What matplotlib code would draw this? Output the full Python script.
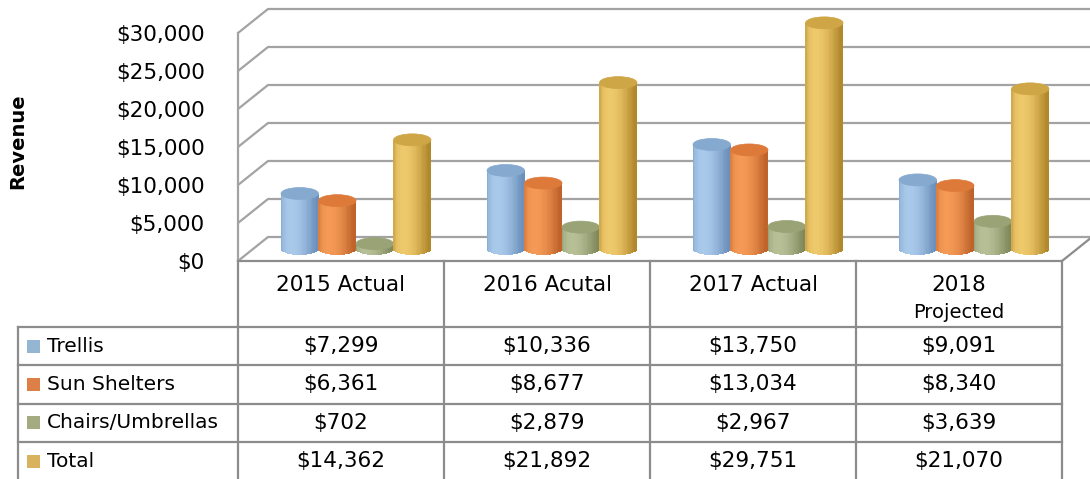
import numpy as np
import matplotlib
matplotlib.use("Agg")
import matplotlib.pyplot as plt
from matplotlib.patches import Ellipse, Rectangle
from matplotlib.colors import to_rgb

# chart data
categories = ["2015 Actual", "2016 Acutal", "2017 Actual", "2018\nProjected"]
series = ["Trellis", "Sun Shelters", "Chairs/Umbrellas", "Total"]
trellis = [7299, 10336, 13750, 9091]
sun_shelters = [6361, 8677, 13034, 8340]
chairs_umbrellas = [702, 2879, 2967, 3639]
total = [14362, 21892, 29751, 21070]
yticks = [0, 5000, 10000, 15000, 20000, 25000, 30000]

values = [trellis, sun_shelters, chairs_umbrellas, total]

# (light, dark, cap, swatch)
colors = [
    ("#a9c9ea", "#6b90bb", "#86a9d0", "#94b6d2"),
    ("#f49a56", "#bf632a", "#dd7a3a", "#dd8047"),
    ("#b6bf96", "#7f895c", "#99a376", "#a5ab81"),
    ("#eec96c", "#b2882c", "#cfa645", "#d8b25c"),
]

W, H = 1090, 479
fig = plt.figure(figsize=(W / 100, H / 100), dpi=100)
plt.rcParams['font.family'] = ['DejaVu Sans']

floor_px = 261
px_per_val = 0.0076
col_px = 206
ax = fig.add_axes([238 / W, (H - floor_px) / H, 4 * col_px / W, floor_px / H])
ax.set_xlim(0, 4)
ax.set_ylim(0, floor_px / px_per_val)
for s in ax.spines.values():
    s.set_visible(False)
ax.set_xticks([])
ax.set_yticks(yticks)
ax.set_yticklabels([f"${v:,}" for v in yticks], fontsize=15.5)
ax.tick_params(axis='y', length=0, pad=24)

grid_c = "#a3a3a3"
dxd = 30 / col_px
dyd = 24 / px_per_val

# back wall gridlines + left wall diagonals
for v in yticks:
    ax.plot([0, dxd, 4.3], [v, v + dyd, v + dyd], color=grid_c, lw=1.6,
            clip_on=False, zorder=1, solid_capstyle='butt')
ax.plot([0, 0], [0, yticks[-1]], color=grid_c, lw=1.6, clip_on=False, zorder=1)
# floor edges
ax.plot([0, 4, 4 + dxd], [0, 0, dyd], color="#8c8c8c", lw=1.6, clip_on=False, zorder=1)

# cylinders
bw = 37.5 / col_px
eh = 12 / px_per_val
nstrip = 30
t = -1 + (2 * np.arange(nstrip) + 1) / nstrip
phi = -0.45
light = np.clip(t * np.sin(phi) + np.sqrt(1 - t ** 2) * np.cos(phi), 0, 1)
for i in range(len(categories)):
    for j in range(len(series)):
        v = values[j][i]
        xc = i + 0.5 + 0.5 * dxd + (j - 1.5) * bw
        base = 0.5 * dyd
        top = base + v
        lo, hi, cap, _ = colors[j]
        lo, hi = np.array(to_rgb(lo)), np.array(to_rgb(hi))
        shade = [hi + (lo - hi) * (I ** 1.5) for I in light]
        xs = xc + t * bw / 2
        bottoms = base - eh / 2 * np.sqrt(1 - t ** 2)
        ax.bar(xs, top - bottoms, width=bw / nstrip * 1.05, bottom=bottoms,
               color=shade, linewidth=0, zorder=3 + j)
        ax.add_patch(Ellipse((xc, top), bw, eh, facecolor=cap,
                             edgecolor=cap, lw=0.5, zorder=3 + j))

# label
fig.text(18 / W, 1 - 141 / H, "Revenue", rotation=90, fontsize=14,
         fontweight='bold', ha='center', va='center')

# data table
tab = fig.add_axes([238 / W, 0, 4 * col_px / W, (H - floor_px) / H])
tab.set_xlim(0, 4)
tab.set_ylim(H - floor_px, 0)
tab.axis('off')
line_c = "#8c8c8c"
header_h = 66
row_h = 38.3
left_x = (18 - 238) / col_px
rows_top = [header_h + k * row_h for k in range(len(series))]

for k in range(len(categories) + 1):
    tab.plot([k, k], [0, H], color=line_c, lw=1.6, clip_on=False)
tab.plot([left_x, left_x], [header_h, H], color=line_c, lw=1.6, clip_on=False)
for y in rows_top:
    tab.plot([left_x, 4], [y, y], color=line_c, lw=1.6, clip_on=False)

for i, cat in enumerate(categories):
    parts = cat.split("\n")
    tab.text(i + 0.5, 24, parts[0], ha='center', va='center', fontsize=15.5)
    if len(parts) > 1:
        tab.text(i + 0.5, 52, parts[1], ha='center', va='center', fontsize=14)

for j, name in enumerate(series):
    yc = rows_top[j] + row_h / 2
    tab.add_patch(Rectangle(((27 - 238) / col_px, yc - 6.5), 13 / col_px, 13,
                            facecolor=colors[j][3], edgecolor='none', clip_on=False))
    tab.text((47 - 238) / col_px, yc, name, ha='left', va='center', fontsize=14.5,
             clip_on=False)
    for i in range(len(categories)):
        tab.text(i + 0.5, yc, f"${values[j][i]:,}", ha='center', va='center',
                 fontsize=15.5)

fig.savefig("out.png", dpi=100)
